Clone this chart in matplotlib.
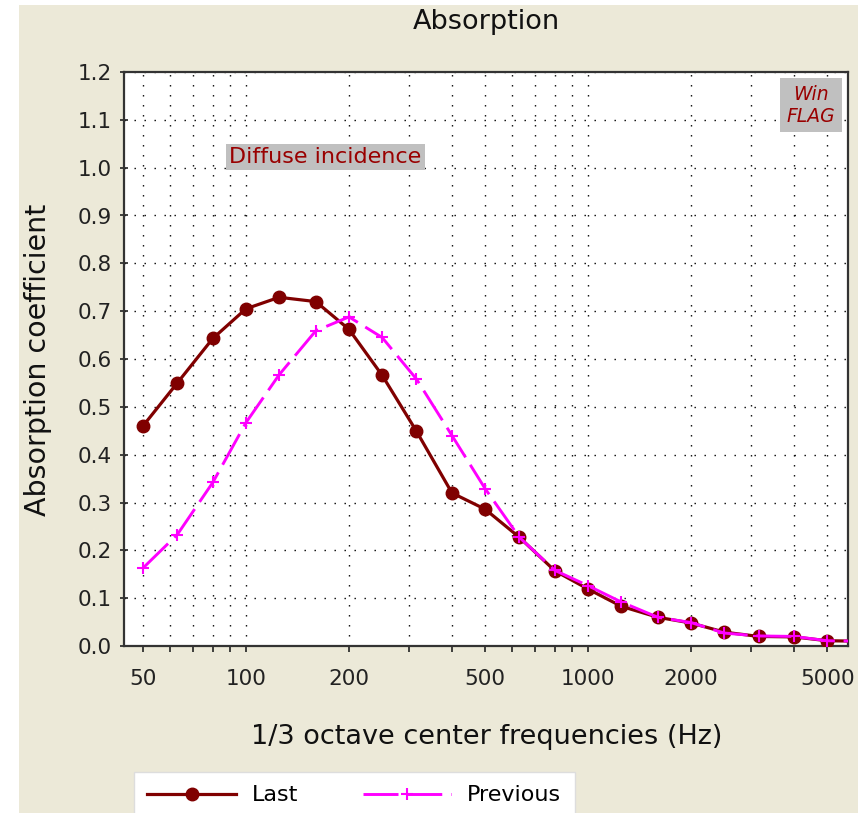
import matplotlib
matplotlib.use("Agg")
import matplotlib.pyplot as plt
from matplotlib.patches import Rectangle

# 1/3 octave band centre frequencies (Hz); 6300 is just past the right edge
freqs = [50, 63, 80, 100, 125, 160, 200, 250, 315, 400, 500, 630, 800,
         1000, 1250, 1600, 2000, 2500, 3150, 4000, 5000, 6300]
last = [0.46, 0.55, 0.643, 0.705, 0.729, 0.72, 0.662, 0.566, 0.449, 0.32,
        0.286, 0.227, 0.157, 0.119, 0.083, 0.06, 0.048, 0.029, 0.02, 0.019,
        0.011, 0.01]
previous = [0.163, 0.233, 0.342, 0.467, 0.567, 0.659, 0.688, 0.645, 0.558,
            0.44, 0.329, 0.227, 0.158, 0.126, 0.092, 0.06, 0.049, 0.027,
            0.021, 0.02, 0.011, 0.01]

grid_freqs = [50, 60, 70, 80, 90, 100, 200, 300, 400, 500, 600, 700, 800,
              900, 1000, 2000, 3000, 4000, 5000]
labelled = [50, 100, 200, 500, 1000, 2000, 5000]
yticks = [i / 10 for i in range(13)]

BEIGE = "#ece9d8"
W, H = 858, 813

fig = plt.figure(figsize=(W / 100, H / 100), dpi=100, facecolor="white")
plt.rcParams["font.family"] = ["DejaVu Sans"]

# beige panel, white strip on the left and top
fig.add_artist(Rectangle((19 / W, 0), 1, (H - 5) / H, transform=fig.transFigure,
                         facecolor=BEIGE, edgecolor="none", zorder=-10))

ax = fig.add_axes([124 / W, 1 - 646 / H, (848 - 124) / W, (646 - 72) / H])
ax.set_facecolor("white")
ax.set_xscale("log")
ax.set_xlim(44, 5750)
ax.set_ylim(0, 1.2)

ax.plot(freqs, last, color="#800000", lw=2.3, marker="o", ms=9,
        label="Last", zorder=3)
ax.plot(freqs, previous, color="#ff00ff", lw=2.1, marker="+", ms=9, mew=1.5,
        dashes=(12, 3), label="Previous", zorder=4)

ax.minorticks_off()
ax.set_xticks(grid_freqs, labels=[str(f) if f in labelled else "" for f in grid_freqs])
ax.set_yticks(yticks, labels=["%.1f" % v for v in yticks])
ax.tick_params(axis="x", direction="out", length=4.5, width=1.2, pad=12,
               labelsize=15.5, colors="#222222")
ax.tick_params(axis="y", direction="inout", length=6, width=1.2, pad=6,
               labelsize=15.5, colors="#222222")

ax.set_axisbelow(True)
ax.grid(True, color="black", lw=1.0, linestyle=(0, (1, 6.2)))
for sp in ax.spines.values():
    sp.set_color("#333333")
    sp.set_linewidth(1.6)

ax.text(0.145, 0.852, "Diffuse incidence", transform=ax.transAxes,
        ha="left", va="center", fontsize=16, color="#990000",
        bbox=dict(boxstyle="square,pad=0.15", fc="#c0c0c0", ec="none"))
ax.text(0.949, 0.9425, "Win\nFLAG", transform=ax.transAxes, ha="center",
        va="center", fontsize=13.5, style="italic", color="#990000",
        linespacing=1.2,
        bbox=dict(boxstyle="square,pad=0.35", fc="#c0c0c0", ec="none"))

fig.text(486 / W, 1 - 22 / H, "Absorption", ha="center", va="center",
         fontsize=19.5, color="#111111")
fig.text(487 / W, 1 - 737 / H, "1/3 octave center frequencies (Hz)",
         ha="center", va="center", fontsize=19.5, color="#111111")
fig.text(38 / W, 1 - 360 / H, "Absorption coefficient", ha="center",
         va="center", rotation=90, fontsize=20.5, color="#111111")

leg = fig.legend(loc="upper left", bbox_to_anchor=(134 / W, 1 - 772 / H),
                 ncol=2, fontsize=16, frameon=True, fancybox=False,
                 borderpad=0.6, borderaxespad=0, handlelength=4.0,
                 handletextpad=0.7, columnspacing=2.9)
leg.get_frame().set_facecolor("white")
leg.get_frame().set_edgecolor("#dddddd")
leg.get_frame().set_alpha(1)

fig.savefig("out.png", dpi=100)
